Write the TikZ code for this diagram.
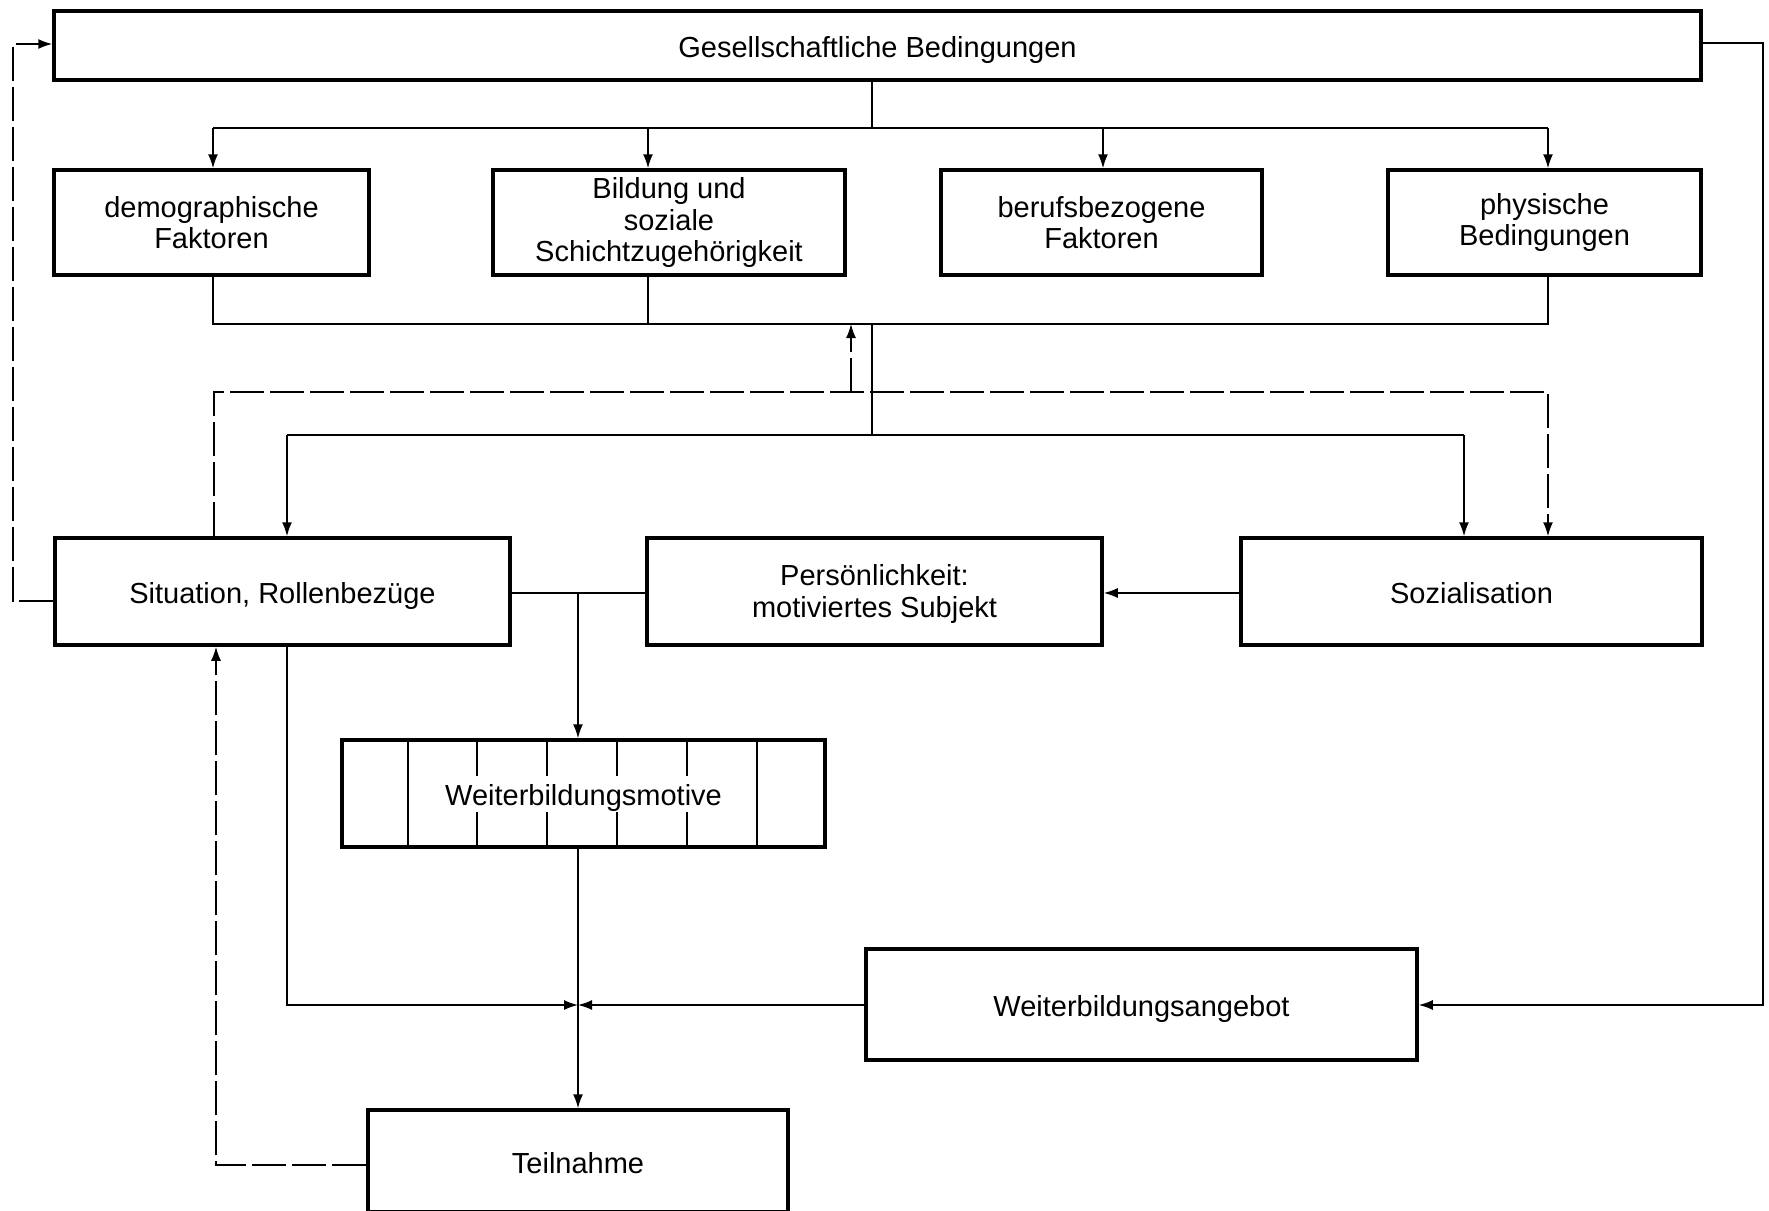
\documentclass[tikz,border=0pt]{standalone}
\usepackage{fontspec}
\setmainfont{Liberation Sans}
\usetikzlibrary{arrows.meta,calc}
\begin{document}
\begin{tikzpicture}[x=1pt,y=-1pt,
  txt/.style={font=\fontsize{29}{31.5}\selectfont, align=center},
  one/.style={text height=28pt, text depth=4pt},
  box/.style={txt, draw, line width=3.5pt, rectangle, inner sep=0pt},
  conn/.style={line width=1.6pt},
  arr/.style={conn, -{Latex[length=14pt,width=10pt]}},
  dsh/.style={conn, dash pattern=on 34pt off 6pt},
  darr/.style={dsh, -{Latex[length=14pt,width=10pt]}},
]
\path[use as bounding box] (0,0) rectangle (1769,1210);
\clip (0,0) rectangle (1769,1210);

% boxes
\node[box, one, minimum width=1647pt, minimum height=69pt] (ges) at (877.5,45.5) {Gesellschaftliche Bedingungen};
\node[box, minimum width=315pt, minimum height=105pt] (demo) at (211.5,222.5) {demographische\\Faktoren};
\node[box, minimum width=352pt, minimum height=105pt] (bild) at (669,222.5) {Bildung und\\soziale\\Schichtzugehörigkeit};
\node[box, minimum width=321pt, minimum height=105pt] (beruf) at (1101.5,222.5) {berufsbezogene\\Faktoren};
\node[box, minimum width=313pt, minimum height=105pt] (phys) at (1544.5,222.5) {physische\\Bedingungen};
\node[box, one, minimum width=455pt, minimum height=107pt] (sit) at (282.5,591.5) {Situation, Rollenbezüge};
\node[box, text depth=1pt, minimum width=455pt, minimum height=107pt] (pers) at (874.5,591.5) {Persönlichkeit:\\motiviertes Subjekt};
\node[box, one, minimum width=461pt, minimum height=107pt] (soz) at (1471.5,591.5) {Sozialisation};
\node[box, minimum width=483pt, minimum height=107pt] (motiv) at (583.5,793.5) {};
\foreach \x in {408,477,547,617,687,757}
  \draw[conn] (\x,0 |- motiv.north) -- (\x,0 |- motiv.south);
\node[txt, one, fill=white, inner sep=2pt] (motivtext) at (motiv.center) {Weiterbildungsmotive};
\node[box, one, minimum width=551pt, minimum height=111pt] (ang) at (1141.5,1004.5) {Weiterbildungsangebot};
\node[box, one, minimum width=420pt, minimum height=102pt] (teil) at (578,1161) {Teilnahme};

% distribution from Gesellschaftliche Bedingungen
\coordinate (t0) at (872,128);
\coordinate (tL) at (213,128);
\coordinate (tB) at (648,128);
\coordinate (tC) at (1103,128);
\coordinate (tR) at (1548,128);
\draw[conn] (ges.south -| t0) -- (t0);
\draw[conn] (tL) -- (tR);
\draw[arr] (tL) -- (tL |- demo.north);
\draw[arr] (tB) -- (tB |- bild.north);
\draw[arr] (tC) -- (tC |- beruf.north);
\draw[arr] (tR) -- (tR |- phys.north);

% collector
\coordinate (cL) at (213,324);
\coordinate (cB) at (648,324);
\coordinate (c0) at (872,324);
\coordinate (cR) at (1548,324);
\draw[conn] (cL |- demo.south) -- (cL) -- (cR) -- (cR |- phys.south);
\draw[conn] (cB |- bild.south) -- (cB);

\coordinate (s0) at (872,435);
\coordinate (sL) at (287,435);
\coordinate (sR) at (1464,435);
\draw[conn] (c0) -- (s0);
\draw[conn] (sL) -- (sR);
\draw[arr] (sL) -- (sL |- sit.north);
\draw[arr] (sR) -- (sR |- soz.north);

% dashed feedback from Situation
\coordinate (dL) at (214,392);
\coordinate (dU) at (851,392);
\coordinate (dR) at (1548,392);
\draw[darr] (dL |- sit.north) -- (dL) -- (dR) -- (dR |- soz.north);
\draw[darr] (dU) -- (dU |- c0);

\coordinate (lA) at (13,601);
\coordinate (lB) at (13,44);
\draw[darr] (sit.west |- lA) -- (lA) -- (lB) -- (lB -| ges.west);

% right solid line to Weiterbildungsangebot
\coordinate (rA) at (1763,43);
\coordinate (rB) at (1763,1005);
\draw[arr] (ges.east |- rA) -- (rA) -- (rB) -- (rB -| ang.east);

% row 3
\coordinate (m0) at (578,593);
\draw[conn] (sit.east |- m0) -- (pers.west |- m0);
\draw[arr] (m0) -- (m0 |- motiv.north);
\draw[arr] (soz.west |- m0) -- (pers.east |- m0);

% bottom
\coordinate (j) at (578,1005);
\coordinate (bL) at (287,1005);
\draw[arr] (bL |- sit.south) -- (bL) -- (j);
\draw[arr] (ang.west |- j) -- (j);
\draw[arr] (motiv.south -| j) -- (j |- teil.north);

\coordinate (tq) at (216,1165);
\draw[darr] (teil.west |- tq) -- (tq) -- (tq |- sit.south);
\end{tikzpicture}
\end{document}
